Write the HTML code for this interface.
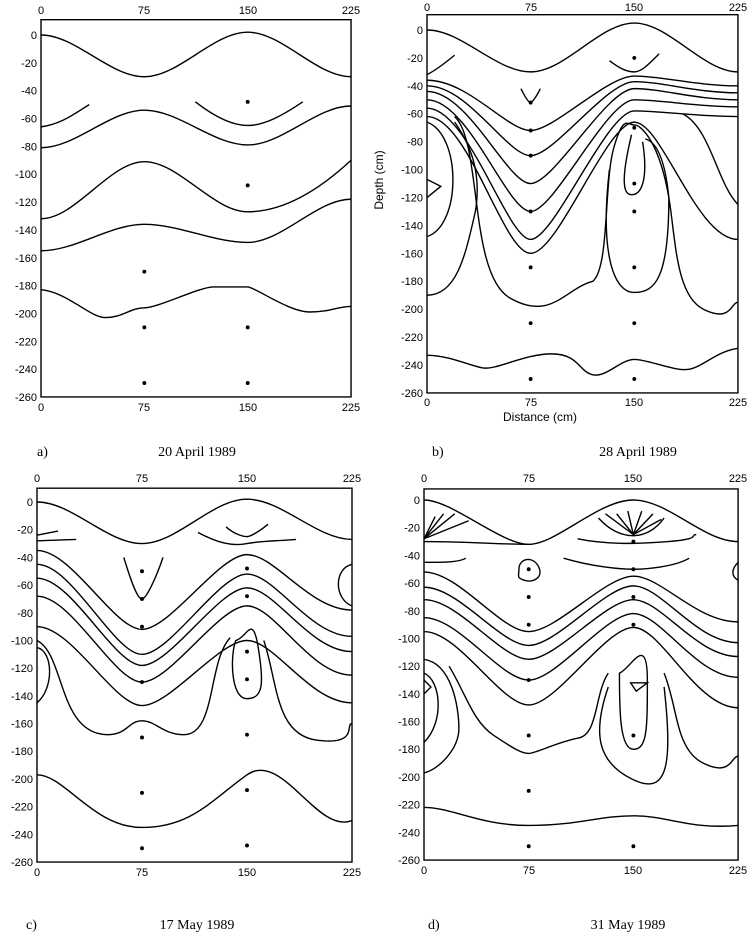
<!DOCTYPE html>
<html><head><meta charset="utf-8">
<style>
html,body{margin:0;padding:0;background:#fff;}
svg{display:block}
.t{font-family:"Liberation Sans",sans-serif;font-size:11px;fill:#000}
.cap{font-family:"Liberation Serif",serif;font-size:14px;fill:#000}
.c path,.c rect,.c line{fill:none;stroke:#000;stroke-width:1.4;vector-effect:non-scaling-stroke}
.c circle{fill:#000}
</style></head><body>
<svg width="752" height="937" viewBox="0 0 752 937" xmlns="http://www.w3.org/2000/svg">

<!-- Panel a -->
<g class="c" transform="translate(41,35) scale(1.378,1.392)">
<rect x="0" y="-11" width="225" height="271"/>
<path d="M0,0 C25,0 50,30 75,30 S125,-2 150,-2 S200,30 225,30"/>
<path d="M0,66 C15,64 25,56 35,50"/>
<path d="M112,48 C125,58 138,65 150,65 S175,58 190,48"/>
<path d="M0,81 C25,81 50,54 75,54 S125,79 150,79 S200,51 225,51"/>
<path d="M0,132 C25,132 50,91 75,91 S125,127 150,127 S200,113 225,90"/>
<path d="M0,155 C25,155 50,136 75,136 S125,149 150,149 S200,118 225,118"/>
<path d="M0,183 C20,185 35,203 47,203 S65,196 75,196 S115,181 125,181 S145,181 150,181 S180,199 195,199 S215,195 225,195"/>
<circle cx="150" cy="48" r="1.4"/><circle cx="150" cy="108" r="1.4"/><circle cx="75" cy="170" r="1.4"/>
<circle cx="75" cy="210" r="1.4"/><circle cx="150" cy="210" r="1.4"/><circle cx="75" cy="250" r="1.4"/><circle cx="150" cy="250" r="1.4"/>
</g>
<g class="t" text-anchor="end" transform="translate(37,39)">
<text y="0">0</text><text y="27.8">-20</text><text y="55.7">-40</text><text y="83.5">-60</text><text y="111.4">-80</text><text y="139.2">-100</text><text y="167.1">-120</text><text y="194.9">-140</text><text y="222.8">-160</text><text y="250.6">-180</text><text y="278.5">-200</text><text y="306.3">-220</text><text y="334.2">-240</text><text y="362">-260</text>
</g>
<g class="t" text-anchor="middle">
<text x="41" y="14">0</text><text x="144" y="14">75</text><text x="248" y="14">150</text><text x="351" y="14">225</text>
<text x="41" y="411">0</text><text x="144" y="411">75</text><text x="248" y="411">150</text><text x="351" y="411">225</text>
</g>
<text class="cap" x="37" y="456">a)</text>
<text class="cap" x="197" y="456" text-anchor="middle">20 April 1989</text>

<!-- Panel b -->
<g class="c" transform="translate(427,30) scale(1.382,1.396)">
<rect x="0" y="-11" width="225" height="271"/>
<path d="M0,0 C25,0 50,30 75,30 S125,-5 150,-5 S200,30 225,30"/>
<path d="M0,32 C8,28 15,22 20,18"/>
<path d="M132,22 C140,28 145,30 150,30 S160,25 168,17"/>
<path d="M0,36 C30,36 58,72 75,72 S130,33 150,33 S195,40 225,40"/>
<path d="M0,40 C30,40 58,90 75,90 S130,37 150,37 S195,45 225,45"/>
<path d="M0,44 C30,44 58,110 75,110 S130,42 150,42 S195,50 225,50"/>
<path d="M0,50 C30,50 58,130 75,130 S130,50 150,50 S195,55 225,55"/>
<path d="M0,56 C30,56 58,150 75,150 S130,58 150,58 S195,62 225,62"/>
<path d="M0,62 C30,62 55,160 75,160 S130,66 150,66 S195,150 225,150"/>
<path d="M68,42 C72,50 74,52 75,52 S79,48 82,42"/>
<path d="M0,66 C25,75 25,140 0,148"/>
<path d="M0,190 C22,190 28,160 35,130 C40,100 30,80 20,66"/>
<path d="M20,62 C40,80 30,175 60,192 S100,185 120,180 C132,170 128,110 135,85 S145,68 150,68 S168,80 175,120 C180,150 180,190 200,200 S220,195 225,195"/>
<path d="M132,100 C125,160 135,188 150,188 S175,178 175,120 C172,90 165,80 158,78"/>
<path d="M148,75 C142,100 140,118 148,118 S160,105 156,80"/>
<path d="M185,60 C205,70 210,110 225,125"/>
<path d="M0,107 L10,112 L0,120"/>
<path d="M0,233 C15,233 30,240 40,242 S70,232 90,232 S110,245 120,247 S140,236 150,236 S180,245 190,243 S210,230 225,228"/>
<circle cx="150" cy="20" r="1.4"/><circle cx="75" cy="52" r="1.4"/><circle cx="75" cy="72" r="1.4"/><circle cx="150" cy="70" r="1.4"/>
<circle cx="75" cy="90" r="1.4"/><circle cx="150" cy="110" r="1.4"/><circle cx="75" cy="130" r="1.4"/><circle cx="150" cy="130" r="1.4"/>
<circle cx="75" cy="170" r="1.4"/><circle cx="150" cy="170" r="1.4"/><circle cx="75" cy="210" r="1.4"/><circle cx="150" cy="210" r="1.4"/><circle cx="75" cy="250" r="1.4"/><circle cx="150" cy="250" r="1.4"/>
</g>
<g class="t" text-anchor="end" transform="translate(423,34)">
<text y="0">0</text><text y="27.9">-20</text><text y="55.8">-40</text><text y="83.7">-60</text><text y="111.7">-80</text><text y="139.6">-100</text><text y="167.5">-120</text><text y="195.4">-140</text><text y="223.3">-160</text><text y="251.2">-180</text><text y="279.2">-200</text><text y="307.1">-220</text><text y="335">-240</text><text y="363">-260</text>
</g>
<g class="t" text-anchor="middle">
<text x="427" y="11">0</text><text x="531" y="11">75</text><text x="634" y="11">150</text><text x="738" y="11">225</text>
<text x="427" y="406">0</text><text x="531" y="406">75</text><text x="634" y="406">150</text><text x="738" y="406">225</text>
<text x="540" y="421" style="font-size:12px">Distance  (cm)</text>
<text transform="translate(383,180) rotate(-90)" style="font-size:12px">Depth  (cm)</text>
</g>
<text class="cap" x="432" y="456">b)</text>
<text class="cap" x="638" y="456" text-anchor="middle">28 April 1989</text>

<!-- Panel c -->
<g class="c" transform="translate(37,502) scale(1.4,1.385)">
<rect x="0" y="-10" width="225" height="270"/>
<path d="M0,0 C25,0 50,30 75,30 S125,-2 150,-2 S200,27 225,27"/>
<path d="M0,24 L15,21"/><path d="M0,28 L28,27"/>
<path d="M135,18 C142,24 148,25 150,25 S158,22 165,16"/>
<path d="M115,22 C130,30 140,32 150,30 S175,28 185,27"/>
<path d="M62,40 C68,60 72,70 75,70 S85,55 90,40"/>
<path d="M0,35 C25,35 55,92 75,92 S130,38 150,38 S195,78 225,78"/>
<path d="M0,45 C25,45 55,110 75,110 S130,52 150,52 S195,97 225,97"/>
<path d="M0,55 C25,55 55,118 75,118 S130,62 150,62 S195,108 225,108"/>
<path d="M0,68 C25,68 55,130 75,130 S130,75 150,75 S195,125 225,125"/>
<path d="M0,90 C25,90 55,147 75,147 S130,100 150,100 S195,145 225,145"/>
<path d="M142,100 C138,110 138,142 150,142 S162,130 158,105 S150,98 142,100 Z"/>
<path d="M0,100 C20,110 15,167 50,168 C65,168 65,158 75,158 C85,158 90,168 105,168 C128,168 122,115 138,98"/>
<path d="M162,100 C172,130 170,168 200,172 S220,160 225,160"/>
<path d="M0,105 C12,108 12,135 0,145"/>
<path d="M225,45 C212,48 212,70 225,75"/>
<path d="M0,197 C20,197 40,235 75,235 S125,215 150,197 S200,240 225,230"/>
<circle cx="75" cy="50" r="1.4"/><circle cx="150" cy="48" r="1.4"/><circle cx="75" cy="70" r="1.4"/><circle cx="150" cy="68" r="1.4"/>
<circle cx="75" cy="90" r="1.4"/><circle cx="150" cy="108" r="1.4"/><circle cx="75" cy="130" r="1.4"/><circle cx="150" cy="128" r="1.4"/>
<circle cx="75" cy="170" r="1.4"/><circle cx="150" cy="168" r="1.4"/><circle cx="75" cy="210" r="1.4"/><circle cx="150" cy="208" r="1.4"/><circle cx="75" cy="250" r="1.4"/><circle cx="150" cy="248" r="1.4"/>
</g>
<g class="t" text-anchor="end" transform="translate(33,506)">
<text y="0">0</text><text y="27.7">-20</text><text y="55.4">-40</text><text y="83.1">-60</text><text y="110.8">-80</text><text y="138.5">-100</text><text y="166.2">-120</text><text y="193.8">-140</text><text y="221.5">-160</text><text y="249.2">-180</text><text y="276.9">-200</text><text y="304.6">-220</text><text y="332.3">-240</text><text y="360">-260</text>
</g>
<g class="t" text-anchor="middle">
<text x="37" y="482">0</text><text x="142" y="482">75</text><text x="247" y="482">150</text><text x="352" y="482">225</text>
<text x="37" y="876">0</text><text x="142" y="876">75</text><text x="247" y="876">150</text><text x="352" y="876">225</text>
</g>
<text class="cap" x="26" y="929">c)</text>
<text class="cap" x="197" y="929" text-anchor="middle">17 May 1989</text>

<!-- Panel d -->
<g class="c" transform="translate(424,500) scale(1.396,1.385)">
<rect x="0" y="-8" width="225" height="268"/>
<path d="M0,0 C20,0 55,32 75,32 S125,0 150,0 S200,30 225,30"/>
<path d="M0,28 L8,12 M0,28 L14,10 M0,28 L22,10 M0,28 L32,15"/>
<path d="M150,25 L130,10 M150,25 L138,10 M150,25 L146,8 M150,25 L156,8 M150,25 L164,10 M150,25 L170,14"/>
<path d="M125,13 C140,30 160,30 172,13"/>
<path d="M0,30 C30,30 55,32 75,32"/>
<path d="M110,28 C130,32 150,32 175,30 S190,25 195,25"/>
<path d="M0,45 C15,45 25,45 30,42"/>
<path d="M100,42 C120,48 140,50 150,50 S180,48 190,42"/>
<path d="M68,50 C68,42 78,40 82,48 S78,60 72,58 S68,55 68,50 Z"/>
<path d="M225,45 C220,50 220,55 225,58"/>
<path d="M0,52 C25,52 55,95 75,95 S130,55 150,55 S195,88 225,88"/>
<path d="M0,63 C25,63 55,105 75,105 S130,62 150,62 S195,103 225,103"/>
<path d="M0,72 C25,72 55,115 75,115 S130,72 150,72 S195,113 225,113"/>
<path d="M0,85 C25,85 55,130 75,130 S130,82 150,82 S195,128 225,128"/>
<path d="M0,95 C25,95 55,148 75,148 S130,92 150,92 S195,150 225,150"/>
<path d="M0,115 C20,118 25,150 25,165 C25,180 10,195 0,197"/>
<path d="M0,125 C12,130 15,160 0,175"/>
<path d="M0,130 L5,135 L0,140"/>
<path d="M18,120 C30,140 35,160 50,170 S70,183 75,183 S95,175 110,172 C125,170 122,140 132,125"/>
<path d="M140,125 C140,150 140,180 150,180 S160,165 160,130 S148,122 140,125 Z"/>
<path d="M148,132 L160,132 L152,138 Z"/>
<path d="M132,135 C120,170 125,190 150,202 S178,190 172,135"/>
<path d="M172,125 C182,150 180,180 200,190 S220,185 225,185"/>
<path d="M0,222 C20,222 40,235 75,235 S125,228 150,228 S190,238 225,235"/>
<circle cx="75" cy="50" r="1.4"/><circle cx="150" cy="50" r="1.4"/><circle cx="150" cy="30" r="1.4"/><circle cx="75" cy="70" r="1.4"/><circle cx="150" cy="70" r="1.4"/>
<circle cx="75" cy="90" r="1.4"/><circle cx="150" cy="90" r="1.4"/><circle cx="75" cy="130" r="1.4"/>
<circle cx="75" cy="170" r="1.4"/><circle cx="150" cy="170" r="1.4"/><circle cx="75" cy="210" r="1.4"/><circle cx="75" cy="250" r="1.4"/><circle cx="150" cy="250" r="1.4"/>
</g>
<g class="t" text-anchor="end" transform="translate(420,504)">
<text y="0">0</text><text y="27.7">-20</text><text y="55.4">-40</text><text y="83.1">-60</text><text y="110.8">-80</text><text y="138.5">-100</text><text y="166.2">-120</text><text y="193.8">-140</text><text y="221.5">-160</text><text y="249.2">-180</text><text y="276.9">-200</text><text y="304.6">-220</text><text y="332.3">-240</text><text y="360">-260</text>
</g>
<g class="t" text-anchor="middle">
<text x="424" y="482">0</text><text x="529" y="482">75</text><text x="633" y="482">150</text><text x="738" y="482">225</text>
<text x="424" y="874">0</text><text x="529" y="874">75</text><text x="633" y="874">150</text><text x="738" y="874">225</text>
</g>
<text class="cap" x="428" y="929">d)</text>
<text class="cap" x="628" y="929" text-anchor="middle">31 May 1989</text>
</svg>
</body></html>
